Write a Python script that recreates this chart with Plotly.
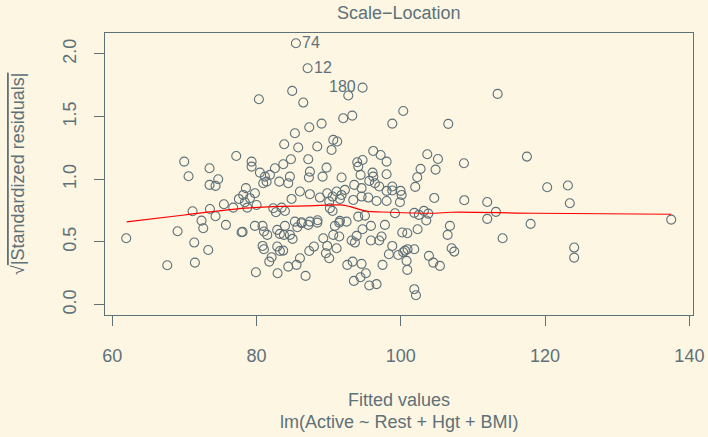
import plotly.graph_objects as go

fitted = [85.46,87.08,94.70,92.72,80.33,84.95,86.48,92.02,93.27,89.02,87.31,100.34,98.82,106.58,113.42,
69.98,77.19,73.49,70.58,74.69,73.49,74.32,77.56,75.48,76.77,71.14,73.54,74.32,72.38,
61.94,69.06,71.37,73.31,67.63,71.46,72.62,75.76,77.93,
120.29,123.16,123.43,137.48,124.03,124.03,
103.67,105.15,117.48,108.75,102.74,104.82,102.28,102.00,98.82,98.82,99.97,100.11,104.64,108.80,111.98,99.88,99.19,101.87,102.51,103.21,103.81,113.18,111.98,103.53,
106.81,117.99,102.33,100.20,100.90,106.49,114.11,98.82,98.35,99.65,100.34,100.94,101.87,100.57,107.04,107.41,103.90,104.50,105.42,100.80,100.90,101.87,102.10,
78.07,79.78,80.84,81.03,81.49,82.87,83.24,83.94,83.80,84.63,85.00,85.65,86.25,87.17,88.42,80.84,81.03,82.87,83.24,83.70,81.77,82.09,79.92,82.92,84.40,85.55,86.02,86.80,87.31,87.96,89.25,89.80,89.62,90.08,91.10,90.64,91.47,90.87,91.47,93.18,93.64,93.87,94.70,95.86,95.86,97.01,97.33,97.80,92.58,93.32,94.56,95.16,94.42,93.50,95.63,96.64,97.47,
85.32,83.84,85.78,88.42,90.64,91.19,90.40,96.18,97.20,98.03,87.17,84.77,79.32,79.32,83.71,82.55,80.47,81.17,81.40,81.86,80.93,83.15,84.63,84.40,87.40,87.26,89.16,89.71,91.79,93.96,94.70,94.10,94.42,96.09,96.18,95.63,96.41,97.01,98.03,98.03,98.03,93.55,94.56,78.53,78.16,79.78,79.09,78.39,78.72,80.01,86.02,87.40,84.86,88.79,89.80,90.54,91.10,91.79,92.25,91.56,90.08,93.41,94.56,95.49,96.64,82.32,83.48,83.94,82.69,90.17,90.54,94.10,95.03,92.48,91.56,85.32,86.25,87.40,88.46]

sqrt_std_resid = [2.085,1.886,1.731,1.668,1.638,1.705,1.612,1.487,1.508,1.444,1.415,1.545,1.444,1.442,1.681,
1.141,1.186,1.088,1.024,1.000,0.955,0.947,0.843,0.801,0.774,0.745,0.763,0.705,0.670,
0.529,0.585,0.495,0.436,0.314,0.335,0.609,0.636,0.577,
0.936,0.950,0.809,0.678,0.455,0.375,
1.200,1.162,1.181,1.128,1.083,1.077,1.016,0.939,0.942,0.910,0.907,0.875,0.851,0.833,0.819,0.817,0.729,0.732,0.716,0.748,0.726,0.740,0.684,0.671,
0.628,0.644,0.601,0.575,0.569,0.556,0.529,0.468,0.402,0.396,0.418,0.442,0.442,0.431,0.450,0.423,0.389,0.335,0.309,0.349,0.277,0.123,0.075,
0.580,0.628,0.628,0.583,0.556,0.596,0.564,0.628,0.556,0.556,0.524,0.617,0.649,0.636,0.654,0.468,0.442,0.463,0.428,0.431,0.343,0.378,0.258,0.250,0.303,0.317,0.370,0.229,0.428,0.463,0.529,0.468,0.410,0.370,0.450,0.556,0.543,0.628,0.654,0.511,0.495,0.548,0.601,0.628,0.511,0.511,0.543,0.636,0.317,0.343,0.325,0.250,0.218,0.189,0.152,0.163,0.317,
1.367,1.279,1.253,1.261,1.314,1.301,1.234,1.226,1.194,1.141,1.160,1.160,1.141,1.101,1.120,1.088,1.053,1.021,0.981,1.035,0.968,0.981,1.021,0.968,1.061,1.014,1.021,1.093,1.014,1.136,1.154,1.101,1.035,1.053,1.021,0.987,0.968,0.942,1.040,0.907,0.827,0.955,0.929,0.929,0.875,0.888,0.849,0.817,0.774,0.795,0.902,0.881,0.843,0.854,0.888,0.862,0.902,0.875,0.915,0.843,0.822,0.835,0.862,0.854,0.827,0.769,0.774,0.747,0.737,0.769,0.747,0.702,0.710,0.662,0.668,0.662,0.657,0.662,0.673]

label_ids = ["74", "12", "180"]
label_x = [85.46, 87.08, 94.70]
label_y = [2.085, 1.886, 1.731]
label_side = ["right", "right", "left"]

smooth_x = [62.0, 70.0, 78.4, 82.3, 86.9, 91.6, 93.0, 95.0, 98.5, 104.7, 107.0, 118.6, 137.5]
smooth_y = [0.660, 0.715, 0.769, 0.782, 0.787, 0.795, 0.782, 0.748, 0.737, 0.729, 0.737, 0.729, 0.721]

BG = "#FDF6E3"
INK = "#5E7179"
FONT = "Liberation Sans, Arial, sans-serif"

fig = go.Figure()
fig.add_trace(go.Scatter(x=fitted, y=sqrt_std_resid, mode="markers",
                         marker=dict(symbol="circle-open", size=9, color=INK, line=dict(width=1.1, color=INK)),
                         showlegend=False, hoverinfo="skip"))
fig.add_trace(go.Scatter(x=smooth_x, y=smooth_y, mode="lines", line=dict(color="#FF0000", width=1.2, shape="spline"),
                         showlegend=False, hoverinfo="skip"))

axis_common = dict(showline=True, mirror=True, linecolor=INK, linewidth=1.2, ticks="outside", ticklen=10,
                   tickcolor=INK, tickwidth=1.2, showgrid=False, zeroline=False, automargin=False,
                   tickfont=dict(family=FONT, size=18, color=INK))

annotations = [
    dict(text="Scale\u2212Location", x=0.5, y=1, xref="paper", yref="paper", xanchor="center", yanchor="middle",
         yshift=20, showarrow=False, font=dict(family=FONT, size=18, color=INK)),
    dict(text="Fitted values", xref="paper", yref="paper", x=0.5, y=0, xanchor="center", yanchor="middle",
         yshift=-85, showarrow=False, font=dict(family=FONT, size=18, color=INK)),
    dict(text="lm(Active ~ Rest + Hgt + BMI)", xref="paper", yref="paper", x=0.5, y=0, xanchor="center",
         yanchor="middle", yshift=-107, showarrow=False, font=dict(family=FONT, size=18, color=INK)),
    dict(text="\u221a<span style='text-decoration:overline'>|Standardized residuals|</span>",
         xref="paper", yref="paper", x=0, y=0.5, xanchor="center", yanchor="middle", xshift=-87,
         textangle=-90, showarrow=False, font=dict(family=FONT, size=18, color=INK)),
]
for lid, lx, ly, side in zip(label_ids, label_x, label_y, label_side):
    annotations.append(dict(text=lid, x=lx, y=ly, xref="x", yref="y", showarrow=False,
                            xanchor="left" if side == "right" else "right", yanchor="middle",
                            xshift=4 if side == "right" else -5, yshift=1,
                            font=dict(family=FONT, size=16, color=INK)))

fig.update_layout(
    width=708, height=437, paper_bgcolor=BG, plot_bgcolor=BG,
    margin=dict(l=105, r=15, t=33, b=122, autoexpand=False),
    xaxis=dict(range=[59.0, 140.5], tickvals=[60, 80, 100, 120, 140], ticktext=["60", "80", "100", "120", "140"],
               ticklabelstandoff=14, **axis_common),
    yaxis=dict(range=[-0.083, 2.167], tickvals=[0, 0.5, 1.0, 1.5, 2.0], ticktext=["0.0", "0.5", "1.0", "1.5", "2.0"],
               tickangle=-90, ticklabelstandoff=11, **axis_common),
    annotations=annotations,
)

fig.write_html("out.html", config={"displayModeBar": False},
               post_script="document.body.style.margin='0';document.body.style.background='#FDF6E3';document.body.style.overflow='hidden';")
